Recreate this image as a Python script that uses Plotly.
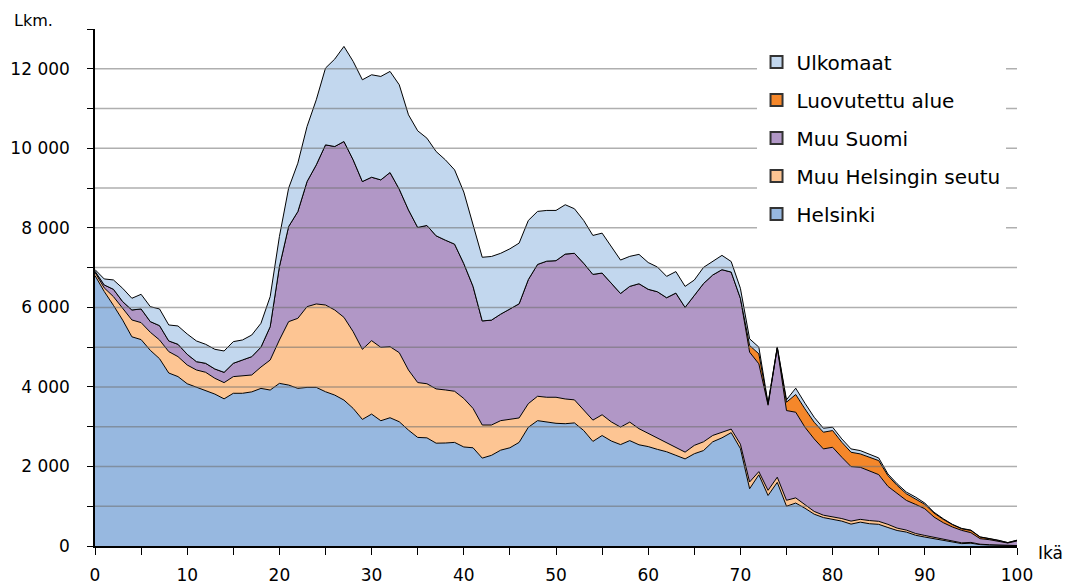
import plotly.graph_objects as go

ages = list(range(0, 101))

helsinki = [6800, 6400, 6050, 5680, 5260, 5190, 4920, 4710, 4350, 4260,
            4080, 3990, 3920, 3820, 3700, 3840, 3840, 3875, 3963, 3921,
            4089, 4047, 3963, 3988, 3988, 3879, 3795, 3669, 3460, 3183,
            3317, 3150, 3225, 3124, 2914, 2730, 2720, 2585, 2590, 2605,
            2490, 2470, 2210, 2280, 2410, 2470, 2605, 2985, 3152, 3110,
            3085, 3075, 3095, 2905, 2630, 2778, 2640, 2550, 2650, 2545,
            2500, 2430, 2370, 2280, 2190, 2320, 2400, 2620, 2720, 2850,
            2450, 1440, 1790, 1270, 1600, 1000, 1080, 950, 800, 715,
            665, 625, 550, 600, 560, 545, 465, 390, 350, 270,
            225, 185, 140, 100, 60, 70, 35, 25, 15, 10, 10]

muu_helsingin_seutu = [80, 90, 221, 297, 424, 427, 454, 471, 538, 502,
                       472, 436, 448, 397, 408, 419, 444, 425, 537, 755,
                       1091, 1594, 1762, 2030, 2098, 2181, 2140, 2081, 1929, 1762,
                       1846, 1845, 1787, 1737, 1511, 1380, 1360, 1365, 1334, 1286,
                       1220, 990, 832, 762, 742, 708, 615, 595, 613, 630,
                       655, 622, 580, 515, 535, 522, 480, 440, 465, 405,
                       330, 300, 240, 200, 170, 210, 220, 160, 150, 90,
                       110, 170, 80, 130, 130, 150, 130, 100, 70, 60,
                       65, 65, 75, 70, 80, 75, 80, 60, 50, 45,
                       40, 35, 30, 25, 20, 20, 10, 8, 5, 3, 2]

muu_suomi = [30, 74, 184, 168, 251, 344, 268, 360, 268, 310,
             268, 210, 226, 234, 259, 335, 394, 461, 500, 839,
             1845, 2391, 2684, 3146, 3498, 4027, 4110, 4421, 4321, 4219,
             4110, 4211, 4379, 4111, 4026, 3900, 3980, 3850, 3766, 3699,
             3390, 3070, 2618, 2638, 2678, 2787, 2870, 3120, 3315, 3422,
             3435, 3643, 3685, 3690, 3665, 3563, 3495, 3360, 3413, 3645,
             3625, 3663, 3633, 3880, 3640, 3770, 3980, 4035, 4078, 3948,
             3670, 3264, 2711, 2140, 3250, 2256, 2154, 1937, 1823, 1666,
             1753, 1542, 1372, 1310, 1256, 1175, 955, 864, 746, 731,
             672, 508, 416, 352, 313, 245, 139, 126, 106, 62, 114]

luovutettu_alue = [0] * 70 + [0, 168, 251, 30, 15, 210, 445, 461, 419, 420,
                              420, 377, 360, 335, 336, 353, 270, 209, 168, 142,
                              109, 100, 83, 59, 40, 55, 40, 25, 16, 9, 16]

ulkomaat = [40, 151, 235, 335, 294, 368, 376, 420, 402, 461,
            511, 520, 478, 495, 537, 545, 503, 544, 600, 755,
            755, 965, 1217, 1385, 1636, 1930, 2198, 2391, 2475, 2559,
            2576, 2601, 2542, 2625, 2391, 2430, 2195, 2119, 2020, 1868,
            1800, 1580, 1600, 1600, 1530, 1508, 1526, 1486, 1333, 1276,
            1263, 1241, 1120, 1076, 979, 1004, 900, 840, 755, 738,
            673, 622, 537, 540, 528, 387, 406, 350, 360, 265,
            250, 168, 168, 20, 10, 60, 160, 143, 126, 100,
            84, 84, 84, 84, 67, 67, 42, 42, 42, 42,
            33, 20, 17, 8, 10, 10, 5, 5, 3, 2, 5]

series = [
    ("Helsinki", helsinki, "#97B8E0"),
    ("Muu Helsingin seutu", muu_helsingin_seutu, "#FDC593"),
    ("Muu Suomi", muu_suomi, "#B197C6"),
    ("Luovutettu alue", luovutettu_alue, "#F5872A"),
    ("Ulkomaat", ulkomaat, "#C2D7EE"),
]

y_tick_vals = list(range(0, 13001, 1000))
y_tick_text = [("{:,}".format(v).replace(",", "\u00a0") if v % 2000 == 0 and v <= 12000 else "") for v in y_tick_vals]
x_tick_vals = list(range(0, 101, 5))
x_tick_text = [str(v) if v % 10 == 0 else "" for v in x_tick_vals]

FONT = "DejaVu Sans"

fig = go.Figure()
for name, vals, col in series:
    fig.add_trace(go.Scatter(
        x=ages, y=vals, name=name, stackgroup="one", mode="lines",
        line=dict(color="black", width=1), fillcolor=col, showlegend=False,
        hoverinfo="skip"))

legend_order = list(reversed(series))
for i, (name, vals, col) in enumerate(legend_order):
    fig.add_trace(go.Scatter(
        x=[None], y=[None], name=name, mode="markers",
        marker=dict(symbol="square", size=13, color=col, line=dict(color="#333333", width=1)),
        legendgroup=name, legendrank=i + 1, showlegend=True))

shapes = []
for v in range(1000, 13000, 1000):
    shapes.append(dict(type="line", xref="paper", x0=0, x1=1, yref="y", y0=v, y1=v,
                       layer="above", line=dict(color="rgba(110,110,110,0.55)", width=1.5)))

fig.update_layout(
    width=1067, height=584,
    margin=dict(l=95, r=50, t=29, b=38),
    paper_bgcolor="white", plot_bgcolor="white",
    font=dict(family=FONT, size=16, color="black"),
    showlegend=True,
    legend=dict(x=0.7175, y=0.974, xanchor="left", yanchor="top",
                bgcolor="white", font=dict(family=FONT, size=20),
                tracegroupgap=9, traceorder="grouped", itemsizing="constant"),
    shapes=shapes,
    annotations=[
        dict(text="Lkm.", xref="paper", yref="paper", x=-0.09, y=1.017,
             xanchor="left", yanchor="middle", showarrow=False, font=dict(size=16)),
        dict(text="Ikä", xref="paper", yref="paper", x=1.052, y=-0.013,
             xanchor="right", yanchor="middle", showarrow=False, font=dict(size=17)),
    ],
)
fig.update_xaxes(range=[0, 100], tickvals=x_tick_vals, ticktext=x_tick_text,
                 ticks="outside", ticklen=7, tickcolor="black", tickwidth=1.2,
                 showline=True, linecolor="black", linewidth=1.5, showgrid=False,
                 zeroline=False, ticklabelstandoff=6, layer="above traces",
                 tickfont=dict(size=17), automargin=False)
fig.update_yaxes(range=[0, 13000], tickvals=y_tick_vals, ticktext=y_tick_text,
                 ticks="outside", ticklen=6, tickcolor="black", tickwidth=1.2,
                 showline=True, linecolor="black", linewidth=1.5, showgrid=False,
                 zeroline=False, ticklabelstandoff=14, layer="above traces",
                 tickfont=dict(size=17), automargin=False)

fig.write_html("out.html", config={"displayModeBar": False},
               post_script="document.body.style.margin='0';document.body.style.overflow='hidden';")
